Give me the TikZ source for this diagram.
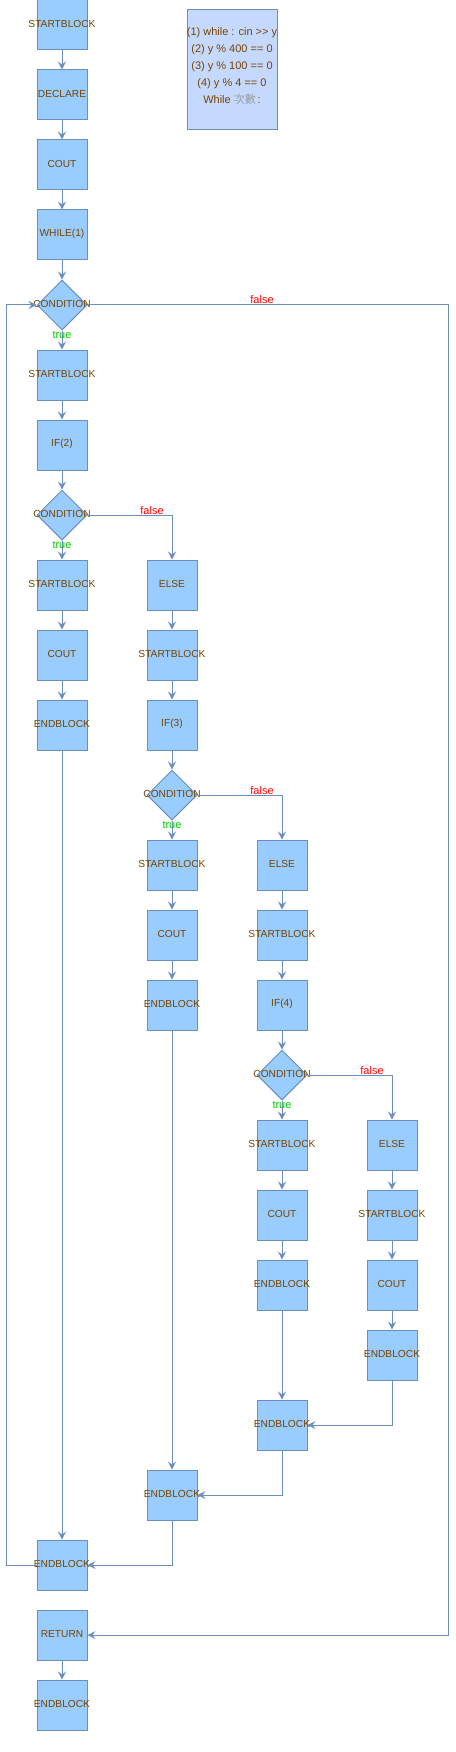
\documentclass[tikz,border=0pt]{standalone}
\usepackage{fontspec}
\setmainfont{Liberation Sans}
\newfontfamily\cjkfont{Noto Sans CJK TC}
\usetikzlibrary{arrows.meta,shapes.geometric}
\definecolor{boxfill}{HTML}{99CCFF}
\definecolor{boxline}{HTML}{6C8EBF}
\definecolor{infofill}{HTML}{C5D9FF}
\definecolor{txtbrown}{HTML}{774400}
\definecolor{truegreen}{HTML}{00CC00}
\definecolor{falsered}{HTML}{FF0000}
\definecolor{cjkgray}{HTML}{999999}
\begin{document}
\begin{tikzpicture}[x=1pt,y=-1pt,
  lbl/.style={anchor=base, yshift=1pt, text=txtbrown, font=\fontsize{10.2}{12}\selectfont, inner sep=0pt},
  blk/.style={draw=boxline, fill=boxfill, line width=1pt, minimum width=50pt, minimum height=50pt, inner sep=0pt, label={[lbl]center:#1}},
  cond/.style={diamond, draw=boxline, fill=boxfill, line width=1pt, minimum width=50pt, minimum height=50pt, inner sep=0pt, label={[lbl]center:CONDITION}},
  flow/.style={draw=boxline, line width=1pt, -{Stealth[length=8pt,width=8pt,inset=3pt]}},
  tlbl/.style={text=truegreen, font=\fontsize{11}{13}\selectfont, anchor=base, inner sep=0pt},
  flbl/.style={text=falsered, font=\fontsize{11}{13}\selectfont, anchor=base, inner sep=0pt},
  infobox/.style={draw=boxline, fill=infofill, line width=1pt, minimum width=90pt, minimum height=120pt, inner sep=0pt}
]
\useasboundingbox (0,0) rectangle (455,1752);
% info box
\node[infobox, label={[anchor=center, yshift=4pt, align=center, text=txtbrown, font=\fontsize{11}{17}\selectfont, inner sep=0pt]center:{(1) while : cin >{}> y\\(2) y \% 400 == 0\\(3) y \% 100 == 0\\(4) y \% 4 == 0\\While {\cjkfont\color{cjkgray}次數}\,:}}] (info) at (232,70) {};
% column 0
\node[blk=STARTBLOCK] (b0) at (62,25) {};
\node[blk=DECLARE] (b1) at (62,95) {};
\node[blk=COUT] (b2) at (62,165) {};
\node[blk=WHILE(1)] (b3) at (62,235) {};
\node[cond] (d1) at (62,305) {};
\node[blk=STARTBLOCK] (b5) at (62,375) {};
\node[blk=IF(2)] (b6) at (62,445) {};
\node[cond] (d2) at (62,515) {};
\node[blk=STARTBLOCK] (b8) at (62,585) {};
\node[blk=COUT] (b9) at (62,655) {};
\node[blk=ENDBLOCK] (b10) at (62,725) {};
\node[blk=ENDBLOCK] (m0) at (62,1565) {};
\node[blk=RETURN] (ret) at (62,1635) {};
\node[blk=ENDBLOCK] (fin) at (62,1705) {};
% column 1
\node[blk=ELSE] (e1) at (172,585) {};
\node[blk=STARTBLOCK] (s1) at (172,655) {};
\node[blk=IF(3)] (i3) at (172,725) {};
\node[cond] (d3) at (172,795) {};
\node[blk=STARTBLOCK] (s2) at (172,865) {};
\node[blk=COUT] (c2) at (172,935) {};
\node[blk=ENDBLOCK] (eb2) at (172,1005) {};
\node[blk=ENDBLOCK] (m1) at (172,1495) {};
% column 2
\node[blk=ELSE] (e2) at (282,865) {};
\node[blk=STARTBLOCK] (s3) at (282,935) {};
\node[blk=IF(4)] (i4) at (282,1005) {};
\node[cond] (d4) at (282,1075) {};
\node[blk=STARTBLOCK] (s4) at (282,1145) {};
\node[blk=COUT] (c4) at (282,1215) {};
\node[blk=ENDBLOCK] (eb4) at (282,1285) {};
\node[blk=ENDBLOCK] (m2) at (282,1425) {};
% column 3
\node[blk=ELSE] (e3) at (392,1145) {};
\node[blk=STARTBLOCK] (s5) at (392,1215) {};
\node[blk=COUT] (c5) at (392,1285) {};
\node[blk=ENDBLOCK] (eb5) at (392,1355) {};
% rails
\coordinate (rail) at (448,0);
\coordinate (lrail) at (6,0);
% straight flows
\foreach \a/\b in {b0/b1,b1/b2,b2/b3,b3/d1,d1/b5,b5/b6,b6/d2,d2/b8,b8/b9,b9/b10,b10/m0,ret/fin,
  e1/s1,s1/i3,i3/d3,d3/s2,s2/c2,c2/eb2,eb2/m1,
  e2/s3,s3/i4,i4/d4,d4/s4,s4/c4,c4/eb4,eb4/m2,
  e3/s5,s5/c5,c5/eb5}
  \draw[flow] (\a.south) -- (\b.north);
% branches
\draw[flow] (d2.east) -| (e1.north);
\draw[flow] (d3.east) -| (e2.north);
\draw[flow] (d4.east) -| (e3.north);
% merges
\draw[flow] (eb5.south) |- (m2.east);
\draw[flow] (m2.south) |- (m1.east);
\draw[flow] (m1.south) |- (m0.east);
% loop back
\draw[flow] (m0.west) -- (m0.west -| lrail) -- (d1.west -| lrail) -- (d1.west);
% loop exit
\draw[flow] (d1.east) -- (d1.east -| rail) -- (ret.east -| rail) -- (ret.east);
% labels
\node[tlbl] (t1) at (62,338.5) {true};
\node[tlbl] (t2) at (62,548.5) {true};
\node[tlbl] (t3) at (172,828.5) {true};
\node[tlbl] (t4) at (282,1108.5) {true};
\node[flbl] (f1) at (262,304) {false};
\node[flbl] (f2) at (152,514) {false};
\node[flbl] (f3) at (262,794) {false};
\node[flbl] (f4) at (372,1074) {false};
\end{tikzpicture}
\end{document}
